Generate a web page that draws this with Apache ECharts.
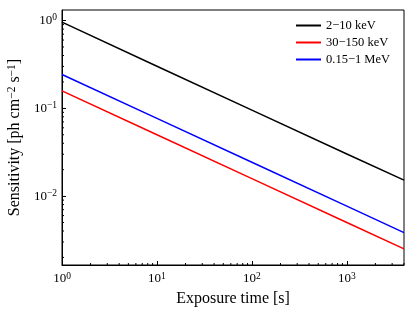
<!DOCTYPE html>
<html><head><meta charset="utf-8">
<script src="https://cdn.jsdelivr.net/npm/echarts@6/dist/echarts.min.js"></script>
<style>html,body{margin:0;padding:0;background:#fff}#c{width:415px;height:312px}</style>
</head><body><div id="c"></div>
<script>
const exposure = [1, 10, 100, 1000, 4000];
const soft = [0.96, 0.302, 0.0955, 0.0302, 0.0152];      // 2-10 keV
const hard = [0.158, 0.050, 0.0158, 0.0050, 0.0025];     // 30-150 keV
const gamma = [0.243, 0.0768, 0.0243, 0.00768, 0.00384]; // 0.15-1 MeV
const seriesNames = ['2\u221210 keV', '30\u2212150 keV', '0.15\u22121 MeV'];
const xRange = [1, 4000];
const yRange = [0.00164, 1.32];
const xMinor = [2,3,4,5,6,7,8,9,20,30,40,50,60,70,80,90,200,300,400,500,600,700,800,900,2000,3000,4000];
const yMinor = [0.002,0.003,0.004,0.005,0.006,0.007,0.008,0.009,0.02,0.03,0.04,0.05,0.06,0.07,0.08,0.09,0.2,0.3,0.4,0.5,0.6,0.7,0.8,0.9];

const FONT = '"Liberation Serif","DejaVu Serif",serif';
function pow10(v){const e=Math.round(Math.log10(v));return '{n|10}{e|'+String(e).replace('-','\u2212')+'}';}
const tickRich = {
  n:{fontFamily:FONT, fontSize:13, color:'#000'},
  e:{fontFamily:FONT, fontSize:9.5, color:'#000', padding:[0,0,6,0]}
};

const chart = echarts.init(document.getElementById('c'), null, {renderer:'canvas'});
const mk = (name, vals, color) => ({
  name, type:'line', data: exposure.map((x,i)=>[x, vals[i]]), showSymbol:false, symbol:'none',
  lineStyle:{color, width:1.5}, itemStyle:{color}, z:3, animation:false
});
chart.setOption({
  animation:false,
  grid:{left:62, right:11, top:10, bottom:47, show:true, borderColor:'#000', borderWidth:1,
        containLabel:false, outerBoundsMode:'none'},
  legend:{
    right:20, top:14, orient:'vertical', itemGap:4, itemWidth:25, itemHeight:2, icon:'rect',
    textStyle:{fontFamily:FONT, fontSize:12.5, color:'#000'},
    data: seriesNames
  },
  xAxis:{
    type:'log', logBase:10, min:xRange[0], max:xRange[1],
    name:'Exposure time [s]', nameLocation:'middle', nameGap:26,
    nameTextStyle:{fontFamily:FONT, fontSize:16, color:'#000'},
    axisLine:{lineStyle:{color:'#000', width:1}},
    axisTick:{inside:true, length:4, lineStyle:{color:'#000'}},
    axisLabel:{formatter:pow10, rich:tickRich, margin:6, showMinLabel:true, showMaxLabel:false},
    splitLine:{show:false}, minorTick:{show:false}
  },
  yAxis:{
    type:'log', logBase:10, min:yRange[0], max:yRange[1],
    name:'{t|Sensitivity [ph cm}{s|\u22122}{t| s}{s|\u22121}{t|]}', nameLocation:'middle', nameGap:37,
    nameTextStyle:{rich:{
      t:{fontFamily:FONT, fontSize:16, color:'#000'},
      s:{fontFamily:FONT, fontSize:11.5, color:'#000', padding:[0,0,7,0]}
    }},
    axisLine:{lineStyle:{color:'#000', width:1}},
    axisTick:{inside:true, length:4, lineStyle:{color:'#000'}},
    axisLabel:{formatter:pow10, rich:tickRich, margin:5, showMinLabel:false, showMaxLabel:false},
    splitLine:{show:false}, minorTick:{show:false}
  },
  series:[
    mk(seriesNames[0], soft, '#000000'),
    mk(seriesNames[1], hard, '#ff0000'),
    mk(seriesNames[2], gamma, '#0000ff'),
    {type:'custom', silent:true, clip:false, z:4, animation:false,
     data: xMinor.map(x=>[x, yRange[0]]),
     renderItem:(p, api)=>{const pt=api.coord([api.value(0), yRange[0]]);
       return {type:'line', shape:{x1:pt[0], y1:pt[1], x2:pt[0], y2:pt[1]-2}, style:{stroke:'#000', lineWidth:1}};}},
    {type:'custom', silent:true, clip:false, z:4, animation:false,
     data: yMinor.map(y=>[xRange[0], y]),
     renderItem:(p, api)=>{const pt=api.coord([xRange[0], api.value(1)]);
       return {type:'line', shape:{x1:pt[0], y1:pt[1], x2:pt[0]+2, y2:pt[1]}, style:{stroke:'#000', lineWidth:1}};}}
  ]
});
</script></body></html>
